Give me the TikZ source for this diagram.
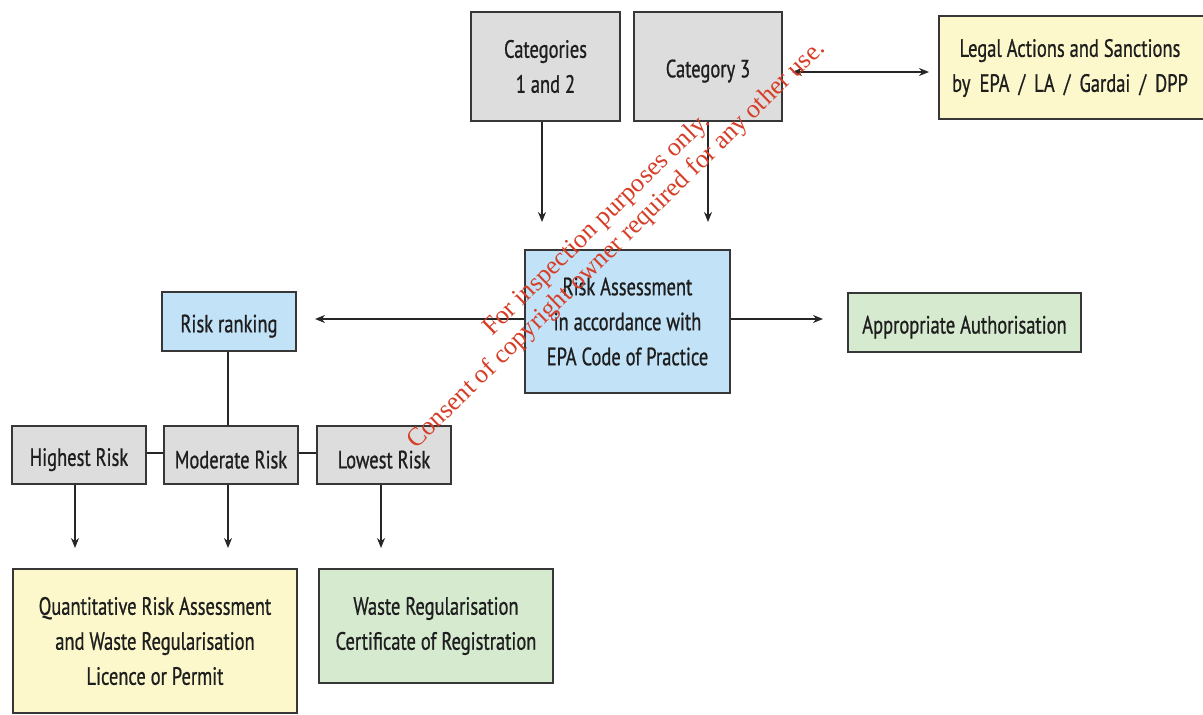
\documentclass[tikz,border=0pt]{standalone}
\usepackage{fontspec}
\setmainfont{PT Sans}[FakeStretch=0.74,FakeBold=0.8]
\newfontfamily\wmfont{Liberation Serif}
\usetikzlibrary{arrows.meta}
\definecolor{boxgray}{RGB}{221,221,221}
\definecolor{boxblue}{RGB}{194,226,247}
\definecolor{boxyellow}{RGB}{252,248,204}
\definecolor{boxgreen}{RGB}{214,234,208}
\definecolor{edgegray}{RGB}{55,55,55}
\definecolor{txtgray}{RGB}{30,30,30}
\definecolor{wmred}{RGB}{214,62,40}
\tikzset{
  boxtext/.style={align=center, text=txtgray, font=\fontsize{25}{35}\selectfont,
    execute at begin node={\rule{0pt}{27pt}}},
  boxbase/.style={boxtext, draw=edgegray, line width=2.6pt, inner sep=0pt},
  graybox/.style={boxbase, fill=boxgray},
  bluebox/.style={boxbase, fill=boxblue},
  yellowbox/.style={boxbase, fill=boxyellow},
  greenbox/.style={boxbase, fill=boxgreen},
  arr/.style={draw=black!85, line width=1.6pt, -{Stealth[length=10pt,width=8pt]}},
  dblarr/.style={draw=black!85, line width=1.6pt, {Stealth[length=10pt,width=8pt]}-{Stealth[length=10pt,width=8pt]}},
  link/.style={draw=black!85, line width=1.6pt},
  watermark/.style={text=wmred, font=\wmfont\fontsize{26}{28}\selectfont, align=center, rotate=44.3}
}
\begin{document}
\begin{tikzpicture}[x=1pt,y=-1pt]
\useasboundingbox[fill=white] (0,0) rectangle (1203,715);
% top row
\node[graybox, minimum width=149pt, minimum height=109pt] (c12) at (545.5,66.5) {Categories\\1 and 2};
\node[graybox, minimum width=148pt, minimum height=109pt] (c3) at (708,66.5) {Category 3};
\node[yellowbox, minimum width=270pt, minimum height=103pt] (legal) at (1074,67.5) {};
\node[boxtext, inner sep=0pt] (legaltxt) at (1070,68) {Legal Actions and Sanctions\\by\, EPA\, /\, LA\, /\, Gardai\, /\, DPP};
% middle row
\node[bluebox, minimum width=205pt, minimum height=143pt] (ra) at (627.5,321.5) {Risk Assessment\\in accordance with\\EPA Code of Practice};
\node[greenbox, minimum width=233pt, minimum height=59pt] (auth) at (964.5,322.5) {Appropriate Authorisation};
\node[bluebox, minimum width=134pt, minimum height=59pt] (rank) at (229,321.5) {Risk ranking};
% risk levels
\node[graybox, minimum width=134pt, minimum height=58pt] (high) at (79,455) {Highest Risk};
\node[graybox, minimum width=134pt, minimum height=58pt] (mod) at (231,455) {Moderate Risk};
\node[graybox, minimum width=134pt, minimum height=58pt] (low) at (384,455) {Lowest Risk};
% bottom row
\node[yellowbox, minimum width=284pt, minimum height=144pt] (qra) at (155,641) {Quantitative Risk Assessment\\and Waste Regularisation\\Licence or Permit};
\node[greenbox, minimum width=234pt, minimum height=114pt] (wrc) at (436,626) {Waste Regularisation\\Certificate of Registration};
% arrow tips (free ends)
\coordinate (t12) at (542,222);
\coordinate (t3) at (708,222);
\coordinate (tl) at (792,72);
\coordinate (tr) at (929,72);
\coordinate (trank) at (315,319);
\coordinate (tauth) at (823,319);
\coordinate (th) at (75,548);
\coordinate (tm) at (228,548);
\coordinate (tlo) at (381,548);
% connectors
\draw[arr] (c12.south -| t12) -- (t12);
\draw[arr] (c3.south -| t3) -- (t3);
\draw[dblarr] (tl) -- (tr);
\draw[arr] (ra.west |- trank) -- (trank);
\draw[arr] (ra.east |- tauth) -- (tauth);
\draw[link] (rank.south -| 228,0) -- (mod.north -| 228,0);
\draw[link] (high.east |- 0,453) -- (mod.west |- 0,453);
\draw[link] (mod.east |- 0,453) -- (low.west |- 0,453);
\draw[arr] (high.south -| th) -- (th);
\draw[arr] (mod.south -| tm) -- (tm);
\draw[arr] (low.south -| tlo) -- (tlo);
% watermark
\node[watermark] (wm) at (607,235) {For inspection purposes only.\\Consent of copyright owner required for any other use.};
\end{tikzpicture}
\end{document}
